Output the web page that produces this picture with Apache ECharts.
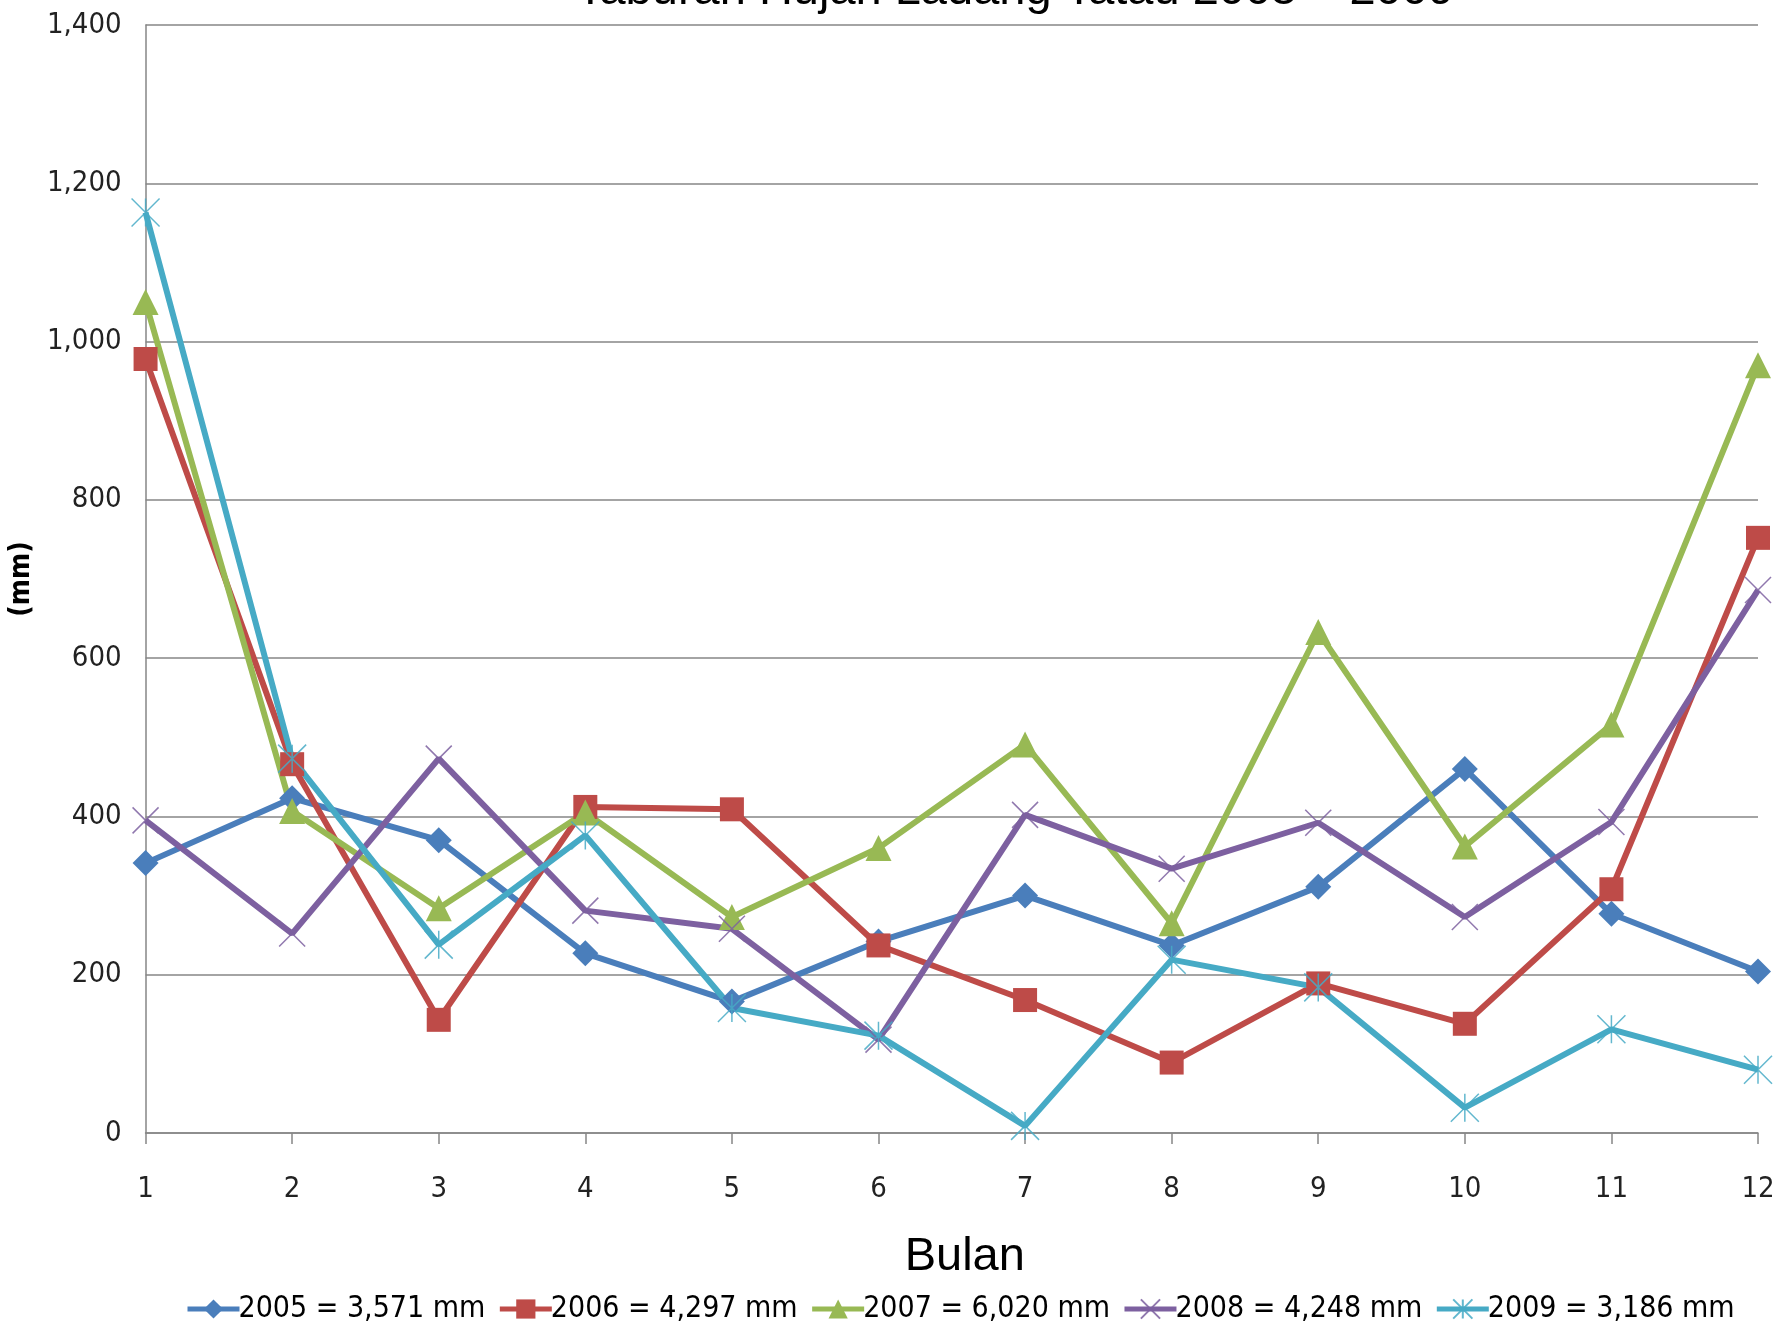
<!DOCTYPE html>
<html>
<head>
<meta charset="utf-8">
<title>Taburan Hujan Ladang Tatau 2005 - 2009</title>
<script src="https://cdn.jsdelivr.net/npm/echarts@6/dist/echarts.min.js"></script>
<style>
  html, body { margin: 0; padding: 0; background: #fff; }
  #chart { width: 1780px; height: 1329px; }
</style>
</head>
<body>
<div id="chart"></div>
<script>
// months (Bulan)
const months = ["1", "2", "3", "4", "5", "6", "7", "8", "9", "10", "11", "12"]

// monthly rainfall, mm
const rain2005 = [341, 423, 370, 227, 166, 242, 300, 237, 311, 460, 277, 204]
const rain2006 = [978, 466, 143, 412, 409, 237, 168, 89, 189, 138, 308, 752]
const rain2007 = [1050, 407, 284, 405, 273, 360, 491, 265, 633, 362, 516, 970]
const rain2008 = [395, 252, 473, 281, 258, 118, 402, 334, 392, 273, 393, 686]
const rain2009 = [1163, 473, 238, 376, 158, 123, 9, 219, 184, 32, 131, 80]

const seriesNames = ["2005 = 3,571 mm", "2006 = 4,297 mm", "2007 = 6,020 mm", "2008 = 4,248 mm", "2009 = 3,186 mm"]

const narrow = "'DejaVu Sans Condensed', sans-serif"

const crossPath = "path://M0,0L10,10M10,0L0,10"
const starPath = "path://M0,0L10,10M10,0L0,10M5,0L5,10"

function lineSeries(name, data, color, symbol, symbolSize, strokeMarker) {
  return {
    name: name,
    type: "line",
    data: data,
    symbol: symbol,
    symbolSize: symbolSize,
    showAllSymbol: true,
    lineStyle: { color: color, width: 6 },
    itemStyle: strokeMarker
      ? { color: color, borderColor: color, borderWidth: 1.5, opacity: 0.85 }
      : { color: color },
    emphasis: { disabled: true },
    z: 3
  }
}

const chart = echarts.init(document.getElementById("chart"), null, { renderer: "canvas" })

chart.setOption({
  animation: false,
  backgroundColor: "#ffffff",
  title: {
    text: "Taburan Hujan Ladang Tatau 2005 \u2013 2009",
    left: 1010,
    textAlign: "center",
    top: -37,
    textStyle: { fontFamily: "'Liberation Sans', Arial, sans-serif", fontSize: 47, fontWeight: "normal", color: "#000" }
  },
  legend: {
    bottom: 0,
    left: 180,
    width: 1600,
    itemGap: 12,
    itemWidth: 52,
    itemHeight: 24,
    lineStyle: { width: 5 },
    textStyle: { fontFamily: narrow, fontSize: 30, color: "#000", padding: [0, 0, 0, -6] },
    data: seriesNames
  },
  grid: {
    left: 143,
    right: 22,
    top: 25,
    bottom: 196,
    containLabel: false
  },
  xAxis: {
    type: "category",
    data: months,
    boundaryGap: false,
    name: "Bulan",
    nameLocation: "middle",
    nameGap: 101,
    nameTextStyle: { fontFamily: "'Liberation Sans', Arial, sans-serif", fontSize: 47, color: "#000", padding: [0, 0, 0, 26] },
    axisLine: { lineStyle: { color: "#868686", width: 1.5 } },
    axisTick: { show: true, length: 11, lineStyle: { color: "#868686", width: 1.5 } },
    axisLabel: { fontFamily: narrow, fontSize: 29, color: "#222", margin: 42 },
    splitLine: { show: false }
  },
  yAxis: {
    type: "value",
    min: 0,
    max: 1400,
    interval: 200,
    name: "(mm)",
    nameLocation: "middle",
    nameGap: 95,
    nameRotate: 90,
    nameTextStyle: { fontFamily: narrow, fontSize: 28, fontWeight: "bold", color: "#000" },
    axisLine: { show: true, lineStyle: { color: "#868686", width: 1.5 } },
    axisTick: { show: false },
    axisLabel: {
      fontFamily: narrow,
      fontSize: 29,
      color: "#222",
      margin: 24,
      formatter: v => v.toLocaleString("en-US")
    },
    splitLine: { show: true, lineStyle: { color: "#868686", width: 1.5 } }
  },
  series: [
    lineSeries(seriesNames[0], rain2005, "#4a7ebb", "diamond", 26, false),
    lineSeries(seriesNames[1], rain2006, "#be4b48", "rect", 24, false),
    lineSeries(seriesNames[2], rain2007, "#98b954", "triangle", 26, false),
    lineSeries(seriesNames[3], rain2008, "#7d60a0", crossPath, 26, true),
    lineSeries(seriesNames[4], rain2009, "#46aac5", starPath, 28, true)
  ]
})
</script>
</body>
</html>
